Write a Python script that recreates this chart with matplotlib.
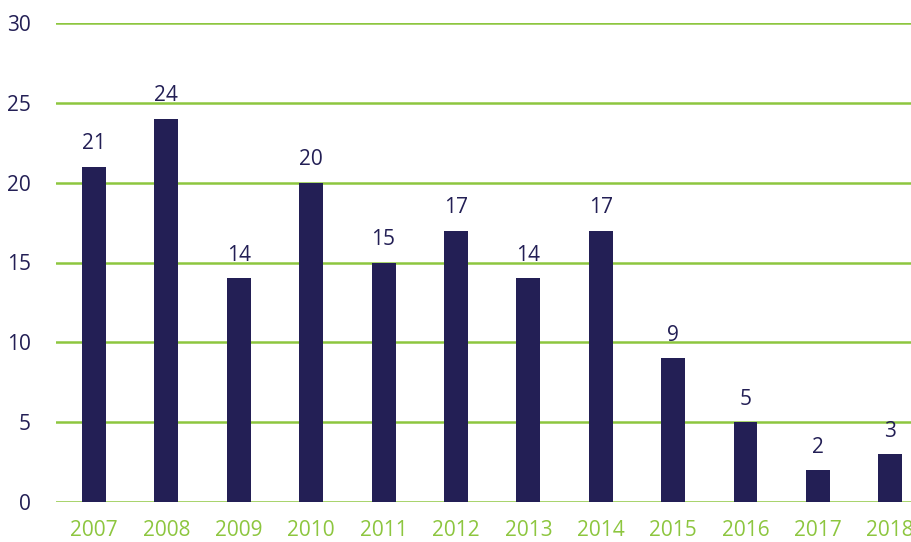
import matplotlib.pyplot as plt
import numpy as np

# datos
years = ['2007', '2008', '2009', '2010', '2011', '2012', '2013', '2014', '2015', '2016', '2017', '2018']
values = [21, 24, 14, 20, 15, 17, 14, 17, 9, 5, 2, 3]

navy = '#231F55'
green = '#8DC63F'

plt.rcParams['font.family'] = ['Open Sans', 'DejaVu Sans']

fig = plt.figure(figsize=(9.12, 5.42), dpi=100)
ax = fig.add_axes([56/912, 40/542, 1 - 56/912, (502-23)/542])

x = np.arange(len(years))
ax.bar(x, values, width=0.33, color=navy, zorder=3)

# etiquetas sobre las barras
for xi, v in zip(x, values):
    ax.annotate(str(v), (xi, v), xytext=(0, 9), textcoords='offset points',
                ha='center', va='bottom', fontsize=15, color=navy)

ax.set_ylim(0, 30)
ax.set_xlim(-0.525, 11.3)
ax.set_yticks(range(0, 31, 5))
ax.set_xticks(x)
ax.set_xticklabels(years)
ax.yaxis.grid(True, color=green, linewidth=1.8, zorder=0)
ax.set_axisbelow(True)
for s in ax.spines.values():
    s.set_visible(False)
ax.tick_params(axis='y', length=0, pad=18, labelsize=15, labelcolor=navy)
ax.tick_params(axis='x', length=0, pad=13, labelsize=15, labelcolor=green)

plt.savefig('out.png', dpi=100)
